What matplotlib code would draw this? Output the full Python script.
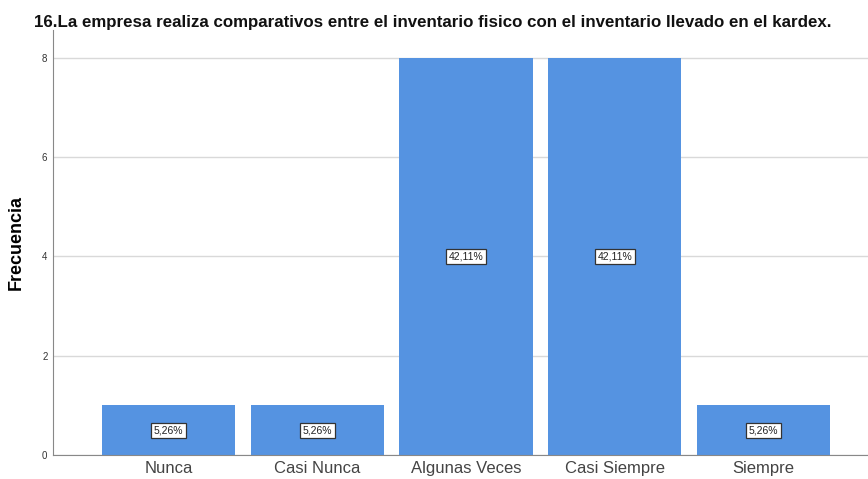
import matplotlib
matplotlib.use("Agg")
import matplotlib.pyplot as plt

categories = ["Nunca", "Casi Nunca", "Algunas Veces", "Casi Siempre", "Siempre"]
counts = [1, 1, 8, 8, 1]
percent_labels = ["5,26%", "5,26%", "42,11%", "42,11%", "5,26%"]
y_ticks = [0, 2, 4, 6, 8]
title = "16.La empresa realiza comparativos entre el inventario fisico con el inventario llevado en el kardex."

plt.rcParams["font.family"] = ["Liberation Sans", "DejaVu Sans"]

fig = plt.figure(figsize=(8.68, 4.79), dpi=100)
ax = fig.add_axes([53 / 868, 24 / 479, 1 - 53 / 868, (455 - 30) / 479])

x = list(range(len(categories)))
ax.bar(x, counts, width=0.896, color="#5593e1", zorder=2)

for xi, c, lab in zip(x, counts, percent_labels):
    ax.text(xi, c / 2, lab, ha="center", va="center", fontsize=7.5, color="#222222",
            zorder=3,
            bbox=dict(boxstyle="square,pad=0.25", fc="white", ec="#333333", lw=0.9))

ax.set_xlim(-0.778, 4.704)
ax.set_ylim(0, 8.56)
ax.set_yticks(y_ticks)
ax.set_yticklabels([str(t) for t in y_ticks], fontsize=7, color="#333333")
ax.set_xticks(x)
ax.set_xticklabels(categories, fontsize=12, color="#444444")
ax.tick_params(axis="both", length=0, pad=4)
ax.tick_params(axis="x", pad=4)

ax.yaxis.grid(True, color="#d9d9d9", lw=1, zorder=0)
ax.set_axisbelow(True)
for s in ["top", "right"]:
    ax.spines[s].set_visible(False)
ax.spines["left"].set_color("#888888")
ax.spines["bottom"].set_color("#888888")

ax.set_ylabel("Frecuencia", fontsize=13, fontweight="bold")
ax.yaxis.set_label_coords(-0.0345, 0.5)
fig.text(433 / 868, 1 - 22 / 479, title, ha="center", va="center",
         fontsize=12.2, fontweight="bold", color="#111111")

fig.savefig("out.png", dpi=100, facecolor="white")
